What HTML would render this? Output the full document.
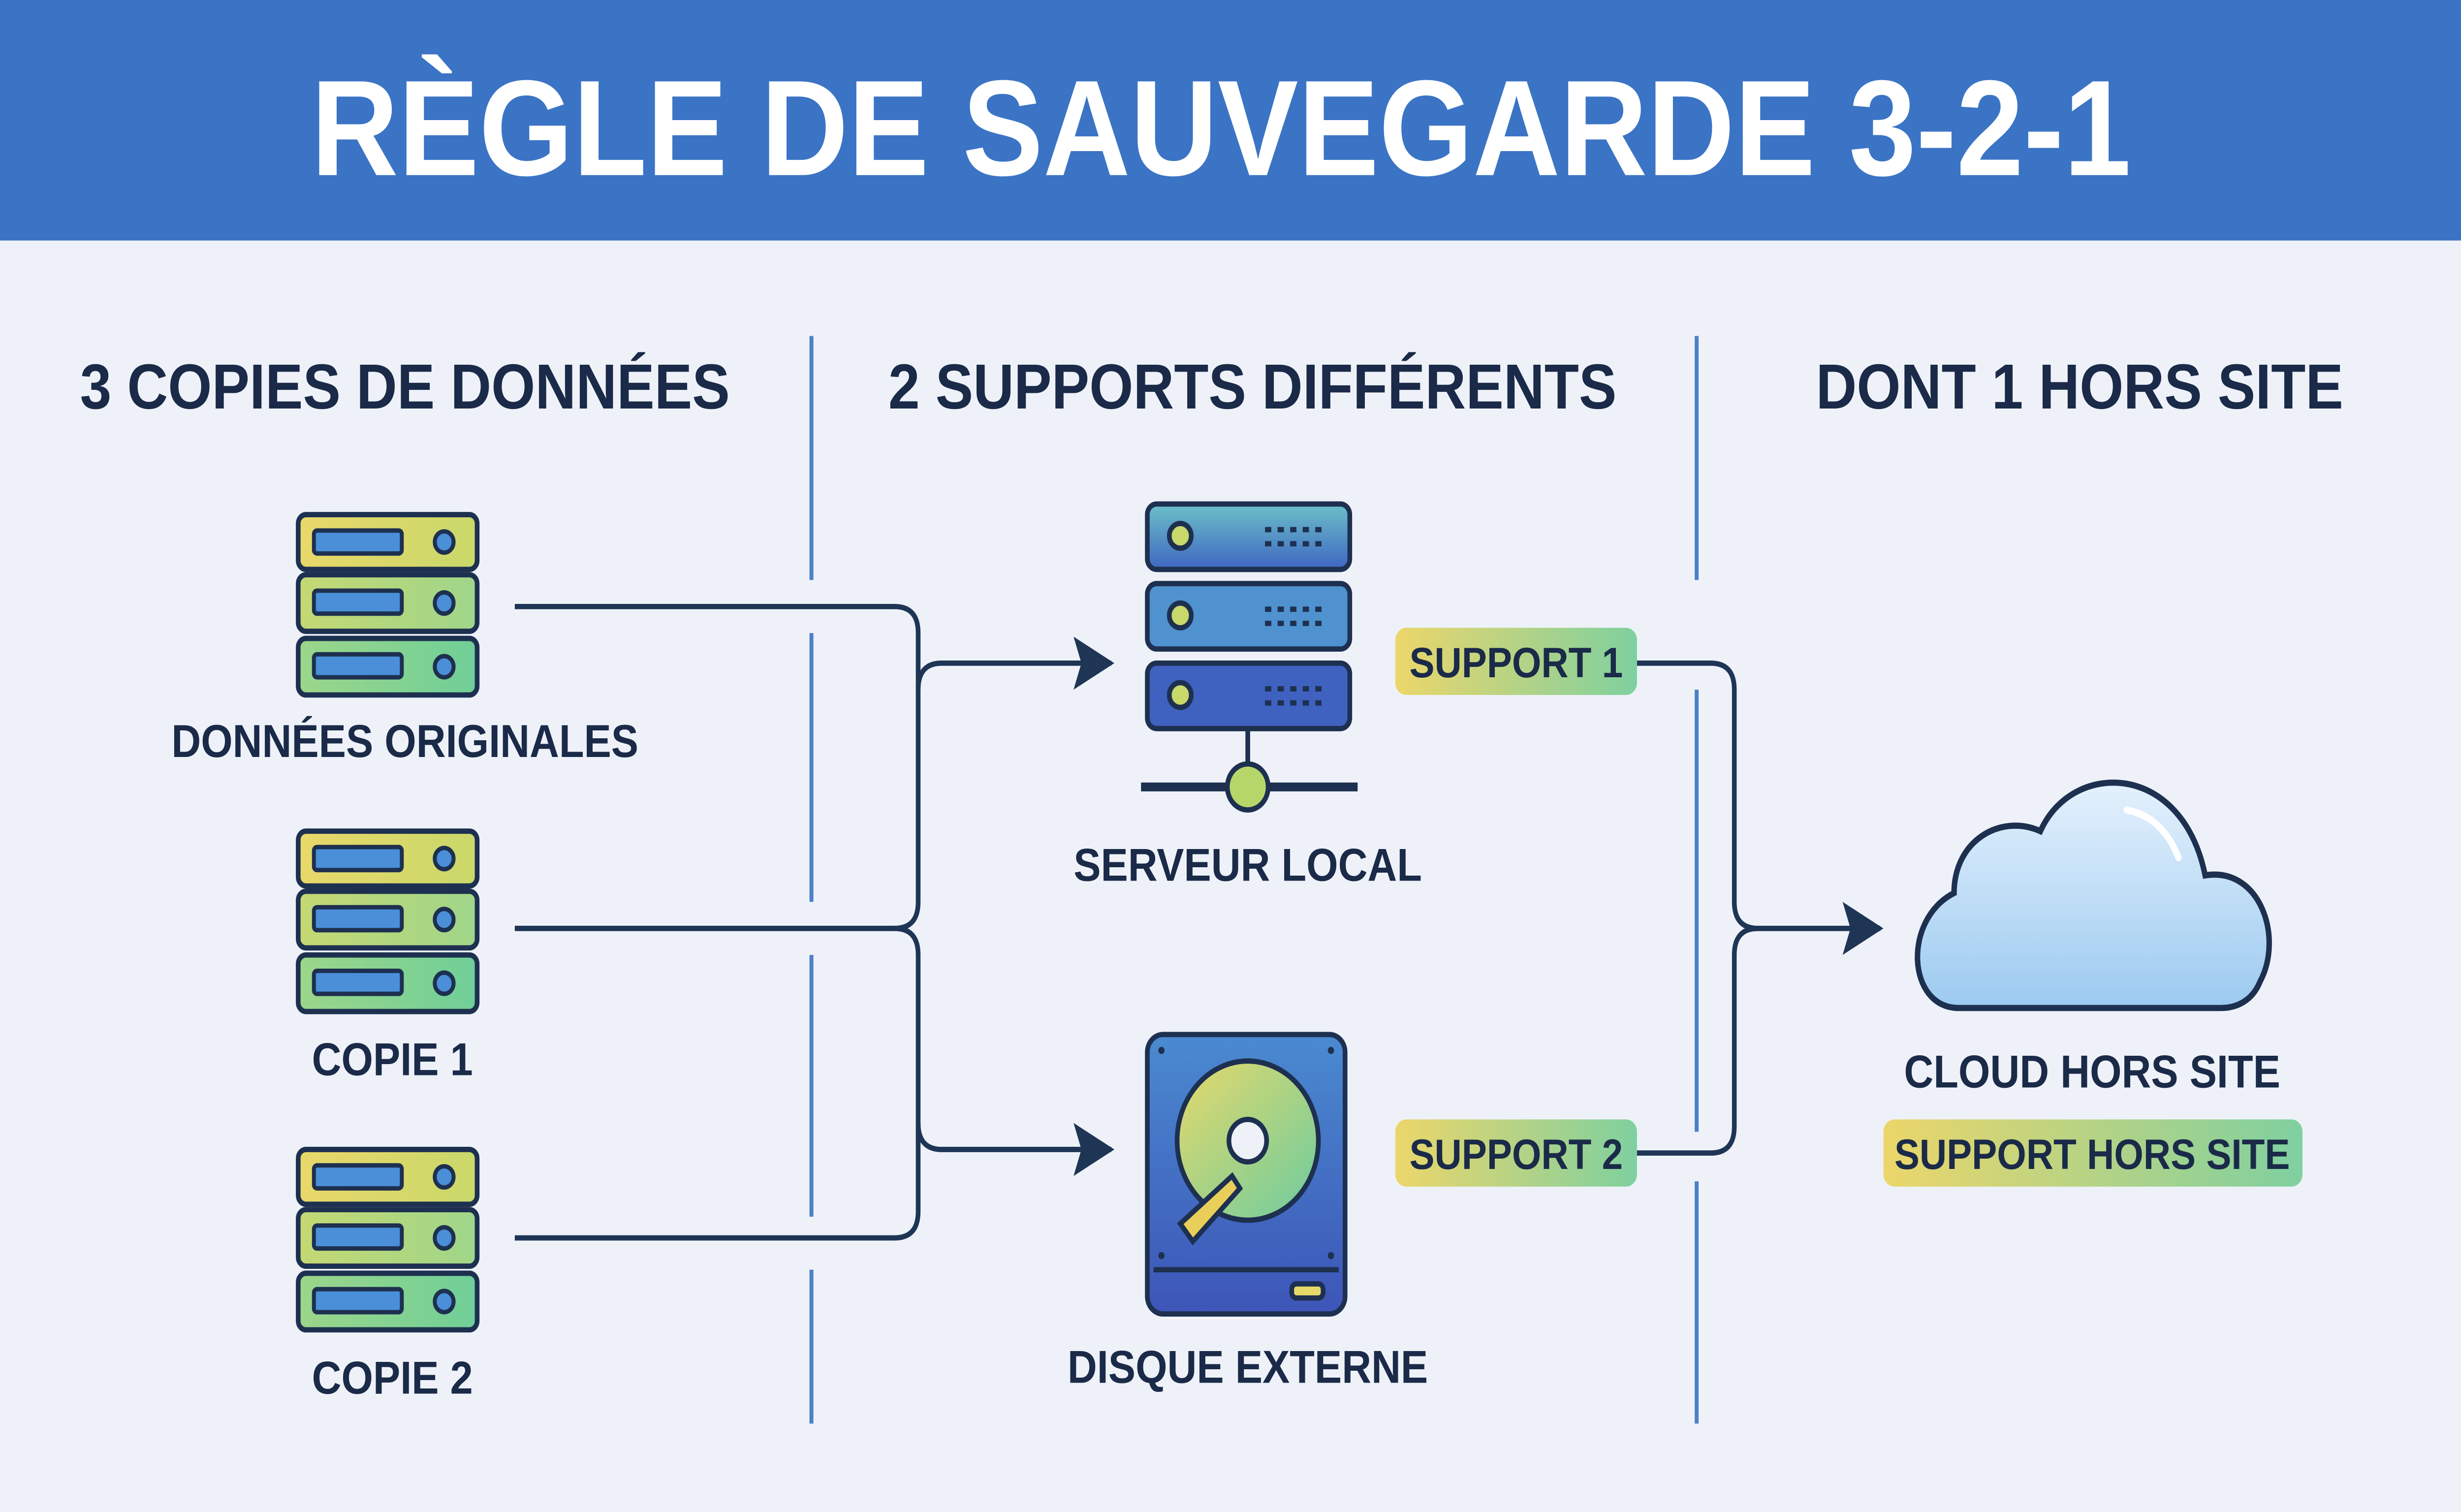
<!DOCTYPE html>
<html><head><meta charset="utf-8">
<style>
html,body{margin:0;padding:0;background:#eef2f8;width:100%;height:100%;overflow:hidden;}
svg{display:block;width:100vw;height:100vh;}
text{font-family:"Liberation Sans","DejaVu Sans",sans-serif;font-weight:bold;}
</style></head>
<body>
<svg viewBox="0 0 1568 855" preserveAspectRatio="none" xmlns="http://www.w3.org/2000/svg">
<defs>
<linearGradient id="yg" x1="0" x2="1" y1="0" y2="0"><stop offset="0" stop-color="#ecd66a"/><stop offset="1" stop-color="#7fd0a0"/></linearGradient>
<linearGradient id="u1" x1="0" x2="1"><stop offset="0" stop-color="#e9d86a"/><stop offset="1" stop-color="#c9d86a"/></linearGradient>
<linearGradient id="u2" x1="0" x2="1"><stop offset="0" stop-color="#c5d873"/><stop offset="1" stop-color="#9fd68a"/></linearGradient>
<linearGradient id="u3" x1="0" x2="1"><stop offset="0" stop-color="#9cd68a"/><stop offset="1" stop-color="#6fcf98"/></linearGradient>
<linearGradient id="sb" x1="0" x2="0" y1="0" y2="1"><stop offset="0" stop-color="#6cc0c8"/><stop offset="1" stop-color="#3e66c2"/></linearGradient>
<linearGradient id="dk" x1="0" x2="0" y1="0" y2="1"><stop offset="0" stop-color="#4a8ad0"/><stop offset="1" stop-color="#3d55b8"/></linearGradient>
<linearGradient id="dc" x1="0" x2="1" y1="0" y2="1"><stop offset="0" stop-color="#e6d96a"/><stop offset="1" stop-color="#6ccca0"/></linearGradient>
<linearGradient id="cl" x1="0" x2="0" y1="0" y2="1"><stop offset="0" stop-color="#e4f1fd"/><stop offset="1" stop-color="#9ccaf0"/></linearGradient>
<marker id="ar" markerWidth="26" markerHeight="30" refX="24" refY="15" orient="auto" markerUnits="userSpaceOnUse"><path d="M0,0 L26,15 L0,30 L5,15 Z" fill="#1e3555"/></marker>
<g id="stack">
 <rect x="0" y="0" width="114" height="31" rx="5" fill="url(#u1)" stroke="#1e3050" stroke-width="3"/>
 <rect x="10" y="9" width="56" height="13" rx="2" fill="#4a8fd8" stroke="#1e3050" stroke-width="2.5"/>
 <circle cx="93" cy="15.5" r="6" fill="#4a8fd8" stroke="#1e3050" stroke-width="2.5"/>
 <rect x="0" y="34" width="114" height="32" rx="5" fill="url(#u2)" stroke="#1e3050" stroke-width="3"/>
 <rect x="10" y="43" width="56" height="13" rx="2" fill="#4a8fd8" stroke="#1e3050" stroke-width="2.5"/>
 <circle cx="93" cy="50" r="6" fill="#4a8fd8" stroke="#1e3050" stroke-width="2.5"/>
 <rect x="0" y="70" width="114" height="32" rx="5" fill="url(#u3)" stroke="#1e3050" stroke-width="3"/>
 <rect x="10" y="79" width="56" height="13" rx="2" fill="#4a8fd8" stroke="#1e3050" stroke-width="2.5"/>
 <circle cx="93" cy="86" r="6" fill="#4a8fd8" stroke="#1e3050" stroke-width="2.5"/>
</g>
<g id="dots" fill="#1e3050">
 <rect x="0" y="0" width="4" height="3"/><rect x="8" y="0" width="4" height="3"/><rect x="16" y="0" width="4" height="3"/><rect x="24" y="0" width="4" height="3"/><rect x="32" y="0" width="4" height="3"/>
 <rect x="0" y="8" width="4" height="3"/><rect x="8" y="8" width="4" height="3"/><rect x="16" y="8" width="4" height="3"/><rect x="24" y="8" width="4" height="3"/><rect x="32" y="8" width="4" height="3"/>
</g>
</defs>
<rect width="1568" height="855" fill="#eef2f8"/>
<rect width="1568" height="136" fill="#3b74c5"/>
<text x="778" y="99" font-size="77" fill="#fff" text-anchor="middle">RÈGLE DE SAUVEGARDE 3-2-1</text>

<g font-size="36" fill="#1a2a48" text-anchor="middle">
<text x="258" y="231">3 COPIES DE DONNÉES</text>
<text x="798" y="231">2 SUPPORTS DIFFÉRENTS</text>
<text x="1325" y="231">DONT 1 HORS SITE</text>
</g>

<g stroke="#4d7fc8" stroke-width="2.5">
<line x1="517" y1="190" x2="517" y2="328"/><line x1="517" y1="358" x2="517" y2="510"/><line x1="517" y1="540" x2="517" y2="688"/><line x1="517" y1="718" x2="517" y2="805"/>
<line x1="1081" y1="190" x2="1081" y2="328"/><line x1="1081" y1="390" x2="1081" y2="640"/><line x1="1081" y1="668" x2="1081" y2="805"/>
</g>

<use href="#stack" x="190" y="291"/>
<use href="#stack" x="190" y="470"/>
<use href="#stack" x="190" y="650"/>
<g font-size="26" fill="#1a2a48" text-anchor="middle">
<text x="258" y="428">DONNÉES ORIGINALES</text>
<text x="250" y="608">COPIE 1</text>
<text x="250" y="788">COPIE 2</text>
<text x="795" y="498">SERVEUR LOCAL</text>
<text x="795" y="782">DISQUE EXTERNE</text>
<text x="1333" y="615">CLOUD HORS SITE</text>
</g>

<g fill="none" stroke="#1e3555" stroke-width="3">
<path d="M328,343 H570 Q585,343 585,358 V510 Q585,525 570,525 H328"/>
<path d="M328,700 H570 Q585,700 585,685 V540 Q585,525 570,525"/>
<path d="M585,390 Q585,375 600,375 H708" marker-end="url(#ar)"/>
<path d="M585,635 Q585,650 600,650 H708" marker-end="url(#ar)"/>
<path d="M1043,375 H1090 Q1105,375 1105,390 V510 Q1105,525 1120,525 H1198" marker-end="url(#ar)"/>
<path d="M1043,652 H1090 Q1105,652 1105,637 V540 Q1105,525 1120,525"/>
</g>

<!-- server local -->
<g stroke="#1e3050" stroke-width="3">
<rect x="731" y="285" width="129" height="37" rx="6" fill="url(#sb)"/>
<rect x="731" y="330" width="129" height="37" rx="6" fill="#4f92cf"/>
<rect x="731" y="375" width="129" height="37" rx="6" fill="#3f62c0"/>
<circle cx="752" cy="303" r="7" fill="#c8d86a"/><circle cx="752" cy="348" r="7" fill="#c8d86a"/><circle cx="752" cy="393" r="7" fill="#c8d86a"/>
<line x1="795" y1="412" x2="795" y2="432"/>
<line x1="727" y1="445" x2="865" y2="445" stroke-width="5"/>
<circle cx="795" cy="445" r="13" fill="#b7d66a"/>
</g>
<use href="#dots" x="806" y="298"/>
<use href="#dots" x="806" y="343"/>
<use href="#dots" x="806" y="388"/>

<!-- disk -->
<g stroke="#1e3050" stroke-width="3">
<rect x="731" y="585" width="126" height="158" rx="10" fill="url(#dk)"/>
<line x1="735" y1="718" x2="853" y2="718"/>
<rect x="823" y="726" width="20" height="8" rx="3" fill="#e6d96a"/>
<circle cx="795" cy="645" r="45" fill="url(#dc)"/>
<circle cx="795" cy="645" r="12" fill="#eef2f8"/>
<path d="M785,665 L752,692 L760,702 L790,672 Z" fill="#e9cf5a"/>
</g>
<g fill="#1e3050"><circle cx="740" cy="594" r="2"/><circle cx="848" cy="594" r="2"/><circle cx="740" cy="710" r="2"/><circle cx="848" cy="710" r="2"/></g>

<!-- cloud -->
<path d="M1248,570 C1215,570 1212,520 1245,505 C1245,475 1275,460 1300,470 C1320,430 1390,430 1405,495 C1440,490 1455,530 1440,555 C1435,566 1425,570 1415,570 Z" fill="url(#cl)" stroke="#1e3050" stroke-width="3.5"/>
<path d="M1355,458 Q1378,462 1388,485" fill="none" stroke="#ffffff" stroke-width="4" stroke-linecap="round"/>

<!-- badges -->
<rect x="889" y="355" width="154" height="38" rx="7" fill="url(#yg)"/>
<rect x="889" y="633" width="154" height="38" rx="7" fill="url(#yg)"/>
<rect x="1200" y="633" width="267" height="38" rx="7" fill="url(#yg)"/>
<g font-size="24" fill="#1a2a48" text-anchor="middle">
<text x="966" y="383">SUPPORT 1</text>
<text x="966" y="661">SUPPORT 2</text>
<text x="1333" y="661">SUPPORT HORS SITE</text>
</g>
</svg>
</body></html>
